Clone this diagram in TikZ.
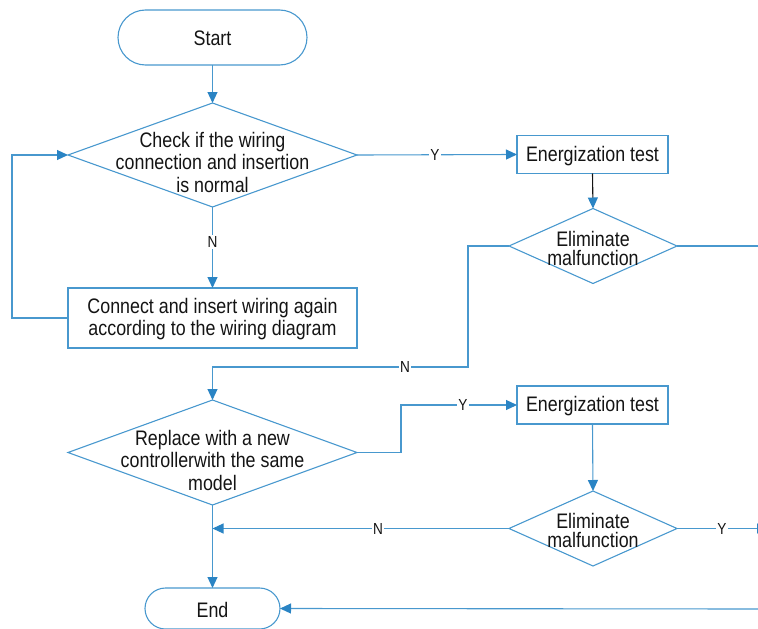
\documentclass[tikz,border=0pt]{standalone}
\usepackage{fontspec}
\setmainfont{Liberation Sans}[FakeStretch=0.85]
\usetikzlibrary{shapes.geometric,arrows.meta}

\definecolor{flowline}{RGB}{72,152,206}
\definecolor{flowtip}{RGB}{42,132,196}
\definecolor{inktext}{RGB}{20,20,20}

\begin{document}
\begin{tikzpicture}[x=1pt,y=-1pt,
  blk/.style={draw=flowline, line width=1.1pt, inner sep=0pt, outer sep=0pt},
  proc/.style={blk, rectangle},
  dec/.style={blk, diamond},
  lbl/.style={text=inktext, align=center, inner sep=0pt, font=\fontsize{21}{22.5}\selectfont},
  yn/.style={fill=white, inner sep=1pt, text=inktext, font=\fontsize{16}{16}\selectfont},
  tip/.style={-{Triangle[length=11pt,width=10pt,color=flowtip]}},
  flow/.style={draw=flowline, line width=1.1pt, tip},
  plain/.style={draw=flowline, line width=1.1pt}
]
\clip (0,0) rectangle (758,629);

% shapes
\node[blk, rectangle, rounded corners=27.5pt, minimum width=189pt, minimum height=55pt] (start) at (212.5,37.5) {};
\node[lbl] (startt) at (212.5,38) {Start};

\node[dec, minimum width=289pt, minimum height=104pt] (d1) at (212.5,155) {};
\node[lbl] (d1t) at (212.5,162) {Check if the wiring\\connection and insertion\\is normal};

\node[proc, minimum width=151pt, minimum height=38pt] (e1) at (592.5,154.5) {};
\node[lbl] (e1t) at (592.5,156) {Energization test};

\node[dec, minimum width=168pt, minimum height=75pt] (d2) at (593,246) {};
\node[lbl, font=\fontsize{21}{19}\selectfont] (d2t) at (593,248) {Eliminate\\malfunction};

\node[proc, minimum width=289pt, minimum height=60pt] (b2) at (212.5,318) {};
\node[lbl] (b2t) at (212.5,319) {Connect and insert wiring again\\according to the wiring diagram};

\node[dec, minimum width=289pt, minimum height=105pt] (d3) at (212.5,452.5) {};
\node[lbl] (d3t) at (212.5,460) {Replace with a new\\controllerwith the same\\model};

\node[proc, minimum width=151pt, minimum height=38pt] (e2) at (592.5,405) {};
\node[lbl] (e2t) at (592.5,406.5) {Energization test};

\node[dec, minimum width=168pt, minimum height=75pt] (d4) at (593,528.5) {};
\node[lbl, font=\fontsize{21}{19}\selectfont] (d4t) at (593,530.5) {Eliminate\\malfunction};

\node[blk, rectangle, rounded corners=20.5pt, minimum width=135pt, minimum height=41pt] (end) at (212.5,608.5) {};
\node[lbl] (endt) at (212.5,610) {End};

% junction and off-edge points
\coordinate (j4) at (212.5,528.5);
\coordinate (r2) at (762,246);
\coordinate (r4) at (768,528.5);
\coordinate (rb) at (762,609);

% connectors
\draw[flow] (start.south) -- (d1.north);
\draw[flow] (d1.east) -- (e1.west);
\node[yn] (y1) at (435,155) {Y};
\draw[line width=1.1pt, draw=inktext, tip] (e1.south) -- (d2.north);
\draw[plain] (d2.east) -- (r2);
\draw[flow] (d2.west) -- (468,246) -- (468,367) -| (d3.north);
\node[yn] (n2) at (405,367) {N};
\draw[flow] (d1.south) -- (b2.north);
\node[yn] (n1) at (212.5,242) {N};
\draw[flow] (b2.west) -- (12,318) |- (d1.west);
\draw[flow] (d3.east) -- (401,452.5) |- (e2.west);
\node[yn] (y3) at (463,405) {Y};
\draw[flow] (e2.south) -- (d4.north);
\draw[flow] (d4.west) -- (j4);
\node[yn] (n4) at (378,528.5) {N};
\draw[flow] (d4.east) -- (r4);
\node[yn] (y4) at (722,528.5) {Y};
\draw[flow] (d3.south) -- (end.north);
\draw[flow] (rb) -- (end.east);
\end{tikzpicture}
\end{document}
